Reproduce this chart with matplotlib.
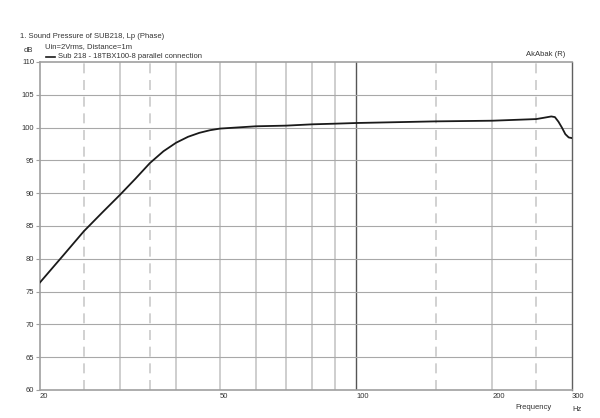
import numpy as np
import matplotlib.pyplot as plt

# response of the sub
freq = [20, 22.5, 25, 27.5, 30, 32.5, 35, 37.5, 40, 42.5, 45, 47.5, 50,
        60, 70, 80, 90, 100, 150, 200, 250, 260, 270, 275, 280, 285, 290, 295, 300]
spl = [76.4, 80.5, 84.2, 87.1, 89.7, 92.2, 94.6, 96.4, 97.7, 98.6, 99.2, 99.6, 99.85,
       100.2, 100.3, 100.5, 100.6, 100.7, 100.95, 101.05, 101.3, 101.5, 101.7, 101.6,
       100.9, 100.0, 99.0, 98.5, 98.4]

solid_grid = [30, 40, 50, 60, 70, 80, 90, 200]
dashed_grid = [25, 35, 150, 250]
xticks = [20, 50, 100, 200, 300]
yticks = list(range(60, 111, 5))

plt.rcParams['font.family'] = ['Liberation Sans', 'DejaVu Sans']
txt = '#333333'
fs = 5.5

fig = plt.figure(figsize=(6.0, 4.18), dpi=100)
ax = fig.add_axes([40 / 600, 28 / 418, 532 / 600, 328 / 418])
ax.set_xscale('log')
ax.set_xlim(20, 300)
ax.set_ylim(60, 110)

for f in solid_grid:
    ax.axvline(f, color='#cacaca', lw=1.3, zorder=1)
for f in dashed_grid:
    ax.axvline(f, color='#cacaca', lw=1.2, ls=(0, (6, 4)), zorder=1)
ax.axvline(100, color='#555555', lw=1.0, zorder=1)
for v in yticks[1:-1]:
    ax.axhline(v, color='#a8a8a8', lw=0.8, zorder=1)

ax.plot(freq, spl, color='#1a1a1a', lw=1.3, zorder=3)

for s in ['left', 'bottom', 'top']:
    ax.spines[s].set_color('#a0a0a0')
    ax.spines[s].set_linewidth(1.2)
ax.spines['right'].set_color('#606060')
ax.spines['right'].set_linewidth(1.0)

ax.set_yticks(yticks)
ax.set_yticklabels([str(v) for v in yticks])
ax.tick_params(axis='y', length=3, width=0.8, color='#a0a0a0', labelsize=fs,
               labelcolor=txt, pad=1)
ax.set_xticks([])
ax.minorticks_off()
for f in xticks:
    ax.text(f, 59.5, str(f), ha='left', va='top', fontsize=fs, color=txt)
ax.text(300, 57.0, 'Hz', ha='left', va='center', fontsize=fs, color=txt)
ax.text(271, 57.4, 'Frequency', ha='right', va='center', fontsize=fs, color=txt)

fig.text(20 / 600, 1 - 36 / 418, '1. Sound Pressure of SUB218, Lp (Phase)',
         fontsize=fs, color=txt, va='center')
fig.text(45 / 600, 1 - 47 / 418, 'Uin=2Vrms, Distance=1m',
         fontsize=fs, color=txt, va='center')
fig.text(33 / 600, 1 - 50 / 418, 'dB', fontsize=fs, color=txt, va='center', ha='right')
fig.add_artist(plt.Line2D([46 / 600, 55 / 600], [1 - 57 / 418, 1 - 57 / 418],
                          color='#1a1a1a', lw=1.2))
fig.text(58 / 600, 1 - 57 / 418, 'Sub 218 - 18TBX100-8 parallel connection',
         fontsize=fs, color=txt, va='center')
fig.text(565 / 600, 1 - 54 / 418, 'AkAbak (R)', fontsize=fs, color=txt,
         va='center', ha='right')

fig.savefig('out.png', dpi=100, facecolor='white')
